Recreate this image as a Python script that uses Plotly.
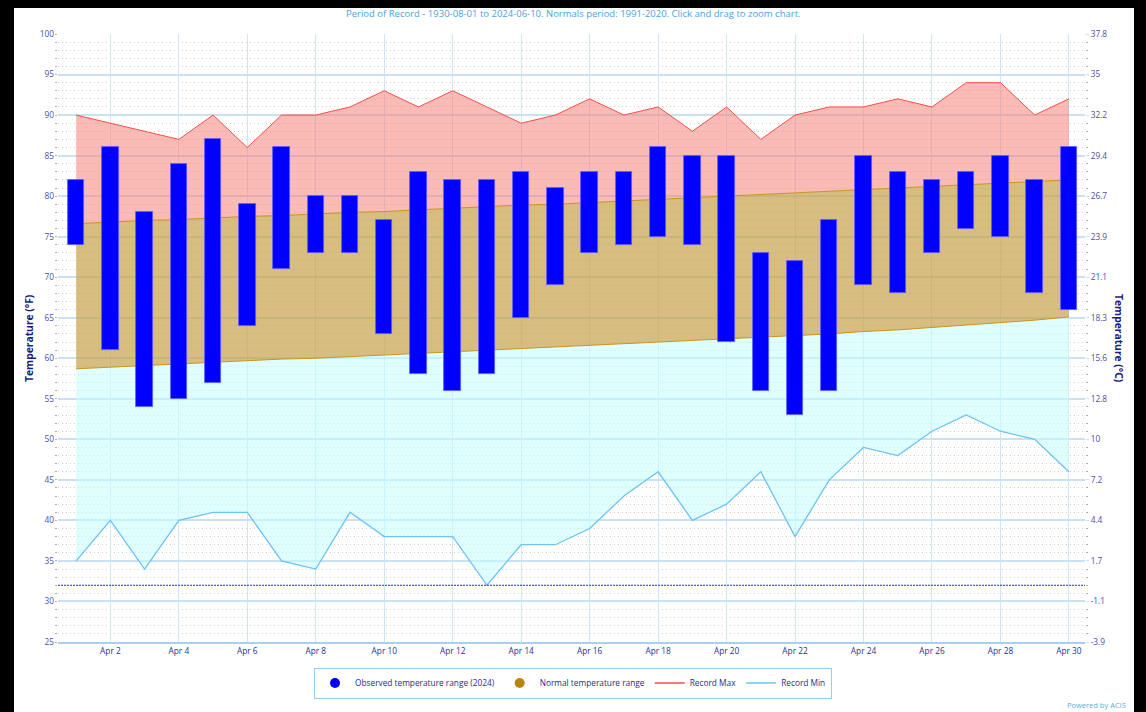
import plotly.graph_objects as go

# ---------------- data ----------------
days = list(range(1, 31))  # April 1..30, 2024
obs_max = [82, 86, 78, 84, 87, 79, 86, 80, 80, 77, 83, 82, 82, 83, 81, 83, 83, 86, 85, 85,
           73, 72, 77, 85, 83, 82, 83, 85, 82, 86]
obs_min = [74, 61, 54, 55, 57, 64, 71, 73, 73, 63, 58, 56, 58, 65, 69, 73, 74, 75, 74, 62,
           56, 53, 56, 69, 68, 73, 76, 75, 68, 66]
normal_max = [76.6, 76.8, 77.0, 77.1, 77.3, 77.5, 77.6, 77.8, 78.0, 78.1, 78.3, 78.5, 78.7, 78.9, 79.0,
              79.2, 79.4, 79.6, 79.8, 80.0, 80.2, 80.4, 80.6, 80.8, 81.0, 81.2, 81.4, 81.6, 81.8, 82.0]
normal_min = [58.7, 58.9, 59.1, 59.3, 59.5, 59.7, 59.9, 60.0, 60.2, 60.4, 60.6, 60.8, 61.0, 61.2, 61.4,
              61.6, 61.8, 62.0, 62.2, 62.4, 62.6, 62.8, 63.0, 63.3, 63.5, 63.8, 64.1, 64.4, 64.7, 65.1]
record_max = [90, 89, 88, 87, 90, 86, 90, 90, 91, 93, 91, 93, 91, 89, 90, 92, 90, 91, 88, 91,
              87, 90, 91, 91, 92, 91, 94, 94, 90, 92]
record_min = [35, 40, 34, 40, 41, 41, 35, 34, 41, 38, 38, 38, 32, 37, 37, 39, 43, 46, 40, 42,
              46, 38, 45, 49, 48, 51, 53, 51, 50, 46]
FREEZING_F = 32

x_tick_days = list(range(2, 31, 2))
x_tick_labels = [f"Apr {d}" for d in x_tick_days]
y_ticks_f = list(range(25, 101, 5))
y_ticks_c = [f"{round((f - 32) * 5 / 9, 1):g}" for f in y_ticks_f]

title_text = ("Period of Record - 1930-08-01 to 2024-06-10. Normals period: 1991-2020. "
              "Click and drag to zoom chart.")

# ---------------- styles ----------------
FONT = "Open Sans, DejaVu Sans, sans-serif"
NAVY = "#2e2e8f"
TICKC = "#4d4da6"
W, H = 1146, 712
L, R, T, B = 58, 61, 34, 70
PW, PH = W - L - R, H - T - B


def px_x(px):
    return (px - L) / PW


def px_y(py):
    return (H - B - py) / PH


fig = go.Figure()

# record min line
fig.add_trace(go.Scatter(x=days, y=record_min, mode="lines", name="Record Min",
                         line=dict(color="#6cc3f5", width=1.3), legendrank=4, hoverinfo="skip"))
# cyan fill between record min and normal min
fig.add_trace(go.Scatter(x=days, y=normal_min, mode="lines", line=dict(width=0),
                         fill="tonexty", fillcolor="rgba(196,255,255,0.55)", showlegend=False,
                         hoverinfo="skip"))
# normal range
fig.add_trace(go.Scatter(x=days, y=normal_min, mode="lines",
                         line=dict(color="#c8951f", width=1), showlegend=False, hoverinfo="skip"))
fig.add_trace(go.Scatter(x=days, y=normal_max, mode="lines",
                         line=dict(color="#c8951f", width=1), fill="tonexty",
                         fillcolor="rgba(200,164,78,0.72)", showlegend=False, hoverinfo="skip"))
# record max fill from normal max
fig.add_trace(go.Scatter(x=days, y=record_max, mode="lines", showlegend=False,
                         line=dict(color="#f5504a", width=1), fill="tonexty",
                         fillcolor="rgba(246,130,122,0.55)", hoverinfo="skip"))

# observed bars on overlay axis so they are drawn above the fills
fig.add_trace(go.Bar(x=days, y=[hi - lo for hi, lo in zip(obs_max, obs_min)], base=obs_min,
                     width=0.48, marker=dict(color="#0000ff", line=dict(color="#5a5aff", width=0.8)),
                     yaxis="y2", showlegend=False, hoverinfo="skip"))

# legend entries
fig.add_trace(go.Scatter(x=[None], y=[None], mode="markers", name="Observed temperature range (2024)",
                         marker=dict(color="#0000ff", size=10, symbol="circle"), legendrank=1))
fig.add_trace(go.Scatter(x=[None], y=[None], mode="markers", name="Normal temperature range",
                         marker=dict(color="#b8860b", size=10, symbol="circle"), legendrank=2))
fig.add_trace(go.Scatter(x=[None], y=[None], mode="lines", name="Record Max",
                         line=dict(color="#f5504a", width=1.3), legendrank=3))

shapes = [
    # white card on black page
    dict(type="rect", xref="paper", yref="paper", layer="below",
         x0=px_x(14), x1=px_x(1134), y0=px_y(712), y1=px_y(8),
         fillcolor="white", line=dict(width=0)),
    # freezing line
    dict(type="line", xref="paper", yref="y", x0=0, x1=1, y0=FREEZING_F, y1=FREEZING_F,
         line=dict(color="#2626ff", width=1, dash="2px,1px")),
]

annotations = [
    dict(text=title_text, xref="paper", yref="paper", x=px_x(573), y=px_y(14),
         showarrow=False, font=dict(family=FONT, size=9.5, color="#4aa3df"),
         xanchor="center", yanchor="middle"),
    dict(text="<b>Temperature (°F)</b>", xref="paper", yref="paper", x=px_x(29), y=px_y(338),
         textangle=-90, showarrow=False, font=dict(family=FONT, size=10.3, color="#1c1c7a"),
         xanchor="center", yanchor="middle"),
    dict(text="<b>Temperature (°C)</b>", xref="paper", yref="paper", x=px_x(1119), y=px_y(338),
         textangle=90, showarrow=False, font=dict(family=FONT, size=10.3, color="#1c1c7a"),
         xanchor="center", yanchor="middle"),
    dict(text="Powered by ACIS", xref="paper", yref="paper", x=px_x(1128), y=px_y(705),
         showarrow=False, font=dict(family=FONT, size=7.5, color="#5aaee8"),
         xanchor="right", yanchor="middle"),
]

grid_major = "#c9e1f3"
minor = dict(dtick=1, showgrid=True, gridcolor="#cfcfcf", griddash="1px,3px", gridwidth=1,
             ticks="outside", ticklen=2, tickcolor="#b0b0b0")

fig.update_layout(
    width=W, height=H,
    margin=dict(l=L, r=R, t=T, b=B),
    paper_bgcolor="black", plot_bgcolor="white",
    font=dict(family=FONT, size=8, color=NAVY),
    showlegend=True,
    legend=dict(orientation="h", x=px_x(573), y=px_y(683), xanchor="center", yanchor="middle",
                bgcolor="white", bordercolor="#9cc9ee", borderwidth=1,
                font=dict(family=FONT, size=8.3, color="#2a2a8a"), itemwidth=30,
                traceorder="normal"),
    xaxis=dict(range=[0.47, 30.47], tickvals=x_tick_days, ticktext=x_tick_labels,
               showgrid=True, gridcolor="#cfe6f7", gridwidth=1, zeroline=False,
               showline=True, linecolor="#a8d1f0", linewidth=2,
               tickfont=dict(family=FONT, size=8.3, color=NAVY), ticks="", fixedrange=True),
    yaxis=dict(range=[25, 100], tickvals=y_ticks_f, ticktext=[str(v) for v in y_ticks_f],
               showgrid=True, gridcolor=grid_major, gridwidth=1.5, zeroline=False,
               tickfont=dict(family=FONT, size=8.3, color=TICKC), minor=minor,
               ticks="", ticklabelstandoff=3),
    yaxis2=dict(range=[25, 100], overlaying="y", side="right", tickvals=y_ticks_f,
                ticktext=y_ticks_c, showgrid=False, zeroline=False,
                tickfont=dict(family=FONT, size=8.3, color=TICKC),
                minor=dict(dtick=1, ticks="outside", ticklen=2, tickcolor="#b0b0b0", showgrid=False),
                ticks="outside", ticklen=3, tickcolor=grid_major),
    shapes=shapes,
    annotations=annotations,
    bargap=0,
)

fig.write_html("out.html", config={"displayModeBar": False},
               post_script="document.body.style.margin='0';document.body.style.background='black';")
